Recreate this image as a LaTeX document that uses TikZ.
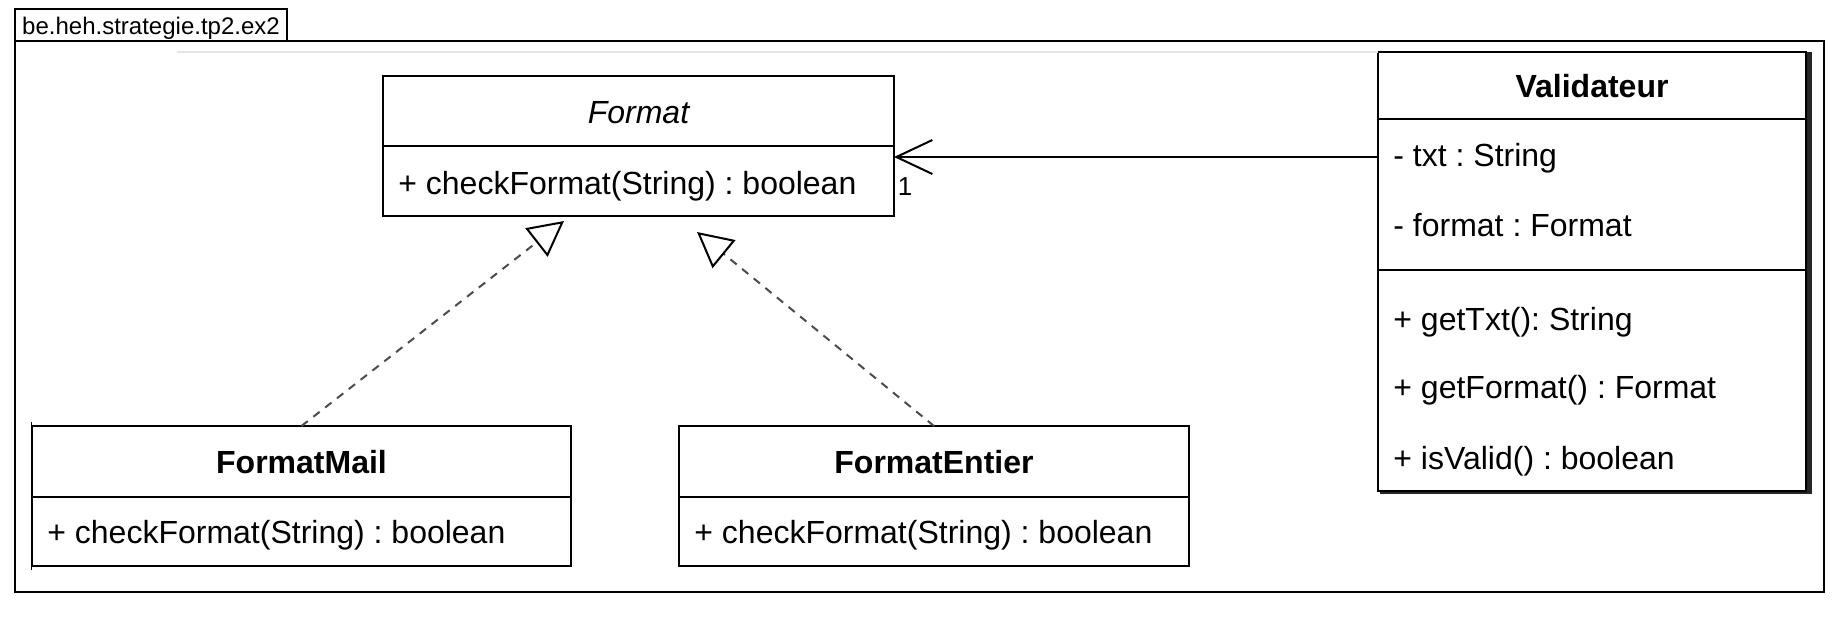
\documentclass[tikz,border=0pt]{standalone}
\usepackage{fontspec}
\setmainfont{Liberation Sans}
\usetikzlibrary{positioning,arrows.meta}
\tikzset{
  umlfont/.style={font=\fontsize{16}{19}\selectfont, text height=12pt, text depth=0pt},
  compartment/.style={draw, line width=1.2pt, fill=white, inner sep=0pt, outer sep=0pt, anchor=north west, umlfont},
  member/.style={inner sep=0pt, anchor=west, umlfont},
  assoc/.style={line width=1pt, -{Straight Barb[length=18pt, width=17pt, line width=1pt]}},
  realize/.style={line width=1pt, draw=black!70, dash pattern=on 4pt off 3.5pt,
    -{Triangle[open, length=17.5pt, width=18pt, line width=1pt, color=black, fill=white]}}
}
\frenchspacing

\begin{document}
\begin{tikzpicture}[x=0.5pt, y=-0.5pt]
	\useasboundingbox (0,0) rectangle (1846,622);
	%Paket
	\node[draw, line width=1pt, anchor=north west, inner sep=0pt, outer sep=0pt, minimum width=904.5pt, minimum height=275.5pt] (pkgframe) at (15,41) {};
	\node[draw, line width=1pt, fill=white, anchor=north west, inner sep=0pt, outer sep=0pt, minimum width=136pt, minimum height=16pt,
	      font=\fontsize{12}{14}\selectfont, text height=9pt, text depth=0pt] (pkgtab) at (15,9) {be.heh.strategie.tp2.ex2};
	%Validateur
	\node[compartment, minimum width=214pt, minimum height=33.5pt] (valhead) at (1378,52) {\bfseries Validateur};
	\node[compartment, minimum width=214pt, minimum height=75.5pt] (valattr) at (valhead.south west) {};
	\node[compartment, minimum width=214pt, minimum height=110.5pt] (valmeth) at (valattr.south west) {};
	\fill[black!85] ([xshift=0.5pt]valhead.north east) rectangle ([xshift=2.8pt, yshift=-1.6pt]valmeth.south east);
	\fill[black!85] ([xshift=0.8pt, yshift=-0.5pt]valmeth.south west) rectangle ([xshift=2.8pt, yshift=-1.6pt]valmeth.south east);
	\draw[black!10, line width=0.6pt] (177,52) -- (valhead.north west);
	\node[member] (valtxt) at (1393,154) {- txt : String};
	\node[member] (valformat) at (1393,224) {- format : Format};
	\node[member] (valgettxt) at (1393,318) {+ getTxt(): String};
	\node[member] (valgetformat) at (1393,386) {+ getFormat() : Format};
	\node[member] (valisvalid) at (1393,457) {+ isValid() : boolean};
	%Format
	\node[compartment, minimum width=255.5pt, minimum height=35pt] (fmthead) at (383,76) {\itshape Format};
	\node[compartment, minimum width=255.5pt, minimum height=35pt] (fmtbody) at (fmthead.south west) {};
	\node[member] (fmtcheck) at (398,182) {+ checkFormat(String) : boolean};
	%FormatMail
	\draw[line width=0.5pt] (31,422) -- (31,570);
	\node[compartment, minimum width=269.5pt, minimum height=35.5pt] (mailhead) at (32,426) {\bfseries FormatMail};
	\node[compartment, minimum width=269.5pt, minimum height=34.5pt] (mailbody) at (mailhead.south west) {};
	\node[member] (mailcheck) at (47,531) {+ checkFormat(String) : boolean};
	%FormatEntier
	\node[compartment, minimum width=255pt, minimum height=35.5pt] (inthead) at (679,426) {\bfseries FormatEntier};
	\node[compartment, minimum width=255pt, minimum height=34.5pt] (intbody) at (inthead.south west) {};
	\node[member] (intcheck) at (694,531) {+ checkFormat(String) : boolean};
	%Beziehungen
	\coordinate (assocend) at (fmtbody.north east |- 0,157);
	\coordinate (tipmail) at (564,221);
	\coordinate (tipint) at (697,232);
	\draw[assoc] (valattr.west |- assocend) -- (assocend);
	\node[inner sep=0pt, font=\fontsize{13}{15}\selectfont] (multone) at (905,187) {1};
	\draw[realize] (mailhead.north) -- (tipmail);
	\draw[realize] (inthead.north) -- (tipint);
\end{tikzpicture}
\end{document}
